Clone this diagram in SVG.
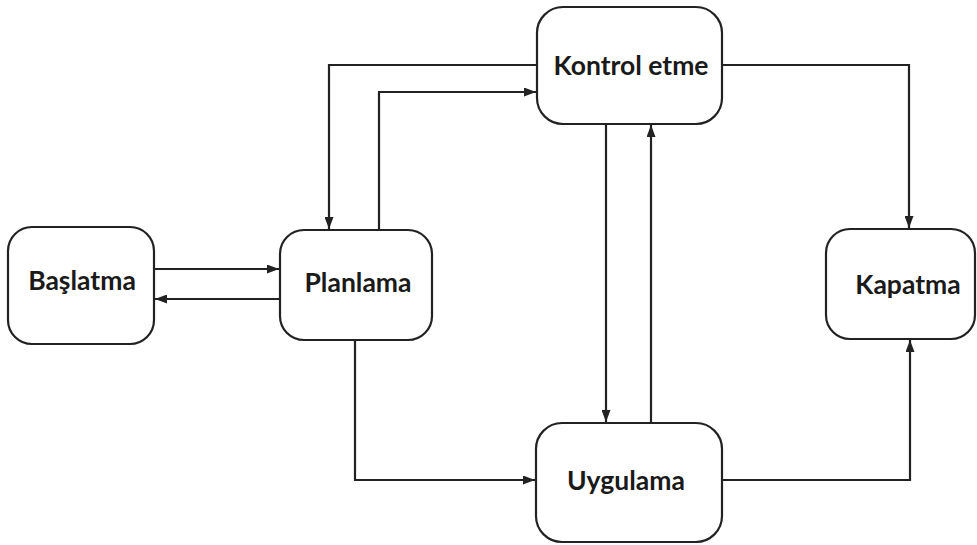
<svg xmlns="http://www.w3.org/2000/svg" width="977" height="545" viewBox="0 0 977 545">
  <defs>
    <marker id="arrow" viewBox="0 0 12 9" refX="12" refY="4.5" markerWidth="12" markerHeight="9" markerUnits="userSpaceOnUse" orient="auto">
      <path d="M0,0 L12,4.5 L0,9 Z" fill="#222"/>
    </marker>
  </defs>
  <style>
    .box { fill: #fff; stroke: #222; stroke-width: 2.2; }
    .label { font-family: "Lato", "Liberation Sans", sans-serif; font-weight: bold; font-size: 26.5px; fill: #1a1a1a; text-anchor: middle; }
    .edge { fill: none; stroke: #222; stroke-width: 2.2; }
  </style>
  <rect width="977" height="545" fill="#fff"/>

  <g id="connectors">
    <!-- Başlatma <-> Planlama -->
    <path class="edge" d="M154,269 H279" marker-end="url(#arrow)"/>
    <path class="edge" d="M279,299 H155" marker-end="url(#arrow)"/>
    <!-- Kontrol etme -> Planlama -->
    <path class="edge" d="M537,65 H329 V229" marker-end="url(#arrow)"/>
    <!-- Planlama -> Kontrol etme -->
    <path class="edge" d="M379,230 V92 H536" marker-end="url(#arrow)"/>
    <!-- Kontrol etme -> Kapatma -->
    <path class="edge" d="M722,65 H909 V228" marker-end="url(#arrow)"/>
    <!-- Kontrol etme <-> Uygulama -->
    <path class="edge" d="M606,124 V422" marker-end="url(#arrow)"/>
    <path class="edge" d="M651,423 V125" marker-end="url(#arrow)"/>
    <!-- Planlama -> Uygulama -->
    <path class="edge" d="M355,340 V480 H535" marker-end="url(#arrow)"/>
    <!-- Uygulama -> Kapatma -->
    <path class="edge" d="M722,480 H910 V340" marker-end="url(#arrow)"/>
  </g>

  <g id="baslatma">
    <rect class="box" x="8" y="227" width="146" height="117" rx="24"/>
    <text class="label" x="82" y="290">Başlatma</text>
  </g>
  <g id="planlama">
    <rect class="box" x="280" y="230" width="152" height="110" rx="24"/>
    <text class="label" x="358" y="292">Planlama</text>
  </g>
  <g id="kontrol">
    <rect class="box" x="537" y="7" width="185" height="117" rx="26"/>
    <text class="label" x="631" y="75">Kontrol etme</text>
  </g>
  <g id="uygulama">
    <rect class="box" x="536" y="423" width="186" height="119" rx="26"/>
    <text class="label" x="626" y="490">Uygulama</text>
  </g>
  <g id="kapatma">
    <rect class="box" x="826" y="229" width="149" height="110" rx="24"/>
    <text class="label" x="908" y="294">Kapatma</text>
  </g>
</svg>
